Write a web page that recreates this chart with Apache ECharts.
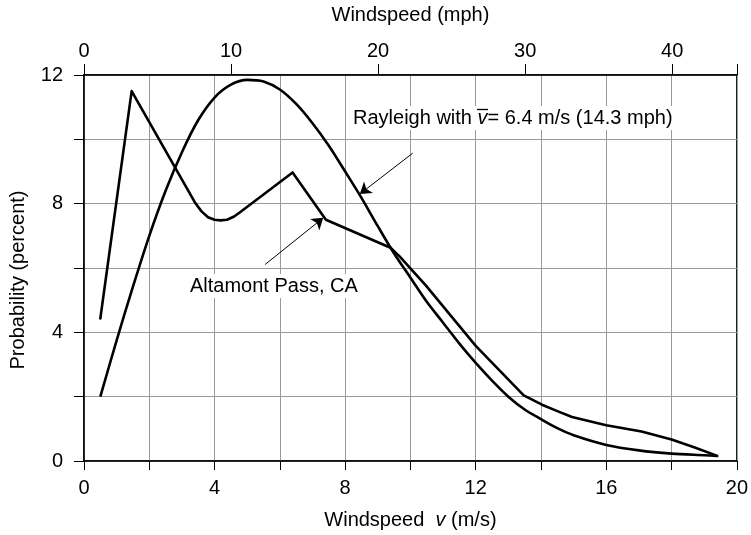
<!DOCTYPE html>
<html>
<head>
<meta charset="utf-8">
<script src="https://cdn.jsdelivr.net/npm/echarts@6/dist/echarts.min.js"></script>
<style>
  html, body { margin: 0; padding: 0; background: #fff; }
  #chart { width: 751px; height: 535px; }
</style>
</head>
<body>
<div id="chart"></div>
<script>
// Windspeed (m/s) and probability (percent)
const altamontSpeed = [0.5, 1.46, 3.41, 3.6, 3.8, 4.0, 4.18, 4.38, 4.6, 4.79, 6.39, 7.41, 9.39, 9.66, 10.47, 12.0, 13.47, 14.03, 14.5, 14.95, 16.0, 17.08, 18.0, 18.71, 19.4];
const altamontProb  = [4.43, 11.5, 8.02, 7.76, 7.58, 7.5, 7.48, 7.5, 7.6, 7.74, 8.97, 7.5, 6.63, 6.37, 5.46, 3.58, 2.04, 1.75, 1.55, 1.37, 1.11, 0.92, 0.67, 0.42, 0.16];

const rayleighSpeed = [0.5, 1, 1.5, 2, 2.5, 3, 3.5, 4, 4.5, 5, 5.5, 6, 6.5, 7, 7.5, 8, 8.5, 9, 9.5, 10, 10.5, 11, 11.5, 12, 12.5, 13, 13.5, 14, 14.5, 15, 16, 17, 18, 19, 19.4];
const rayleighProb  = [2.0, 3.75, 5.42, 7.0, 8.4, 9.6, 10.6, 11.3, 11.7, 11.85, 11.8, 11.55, 11.1, 10.5, 9.8, 9.0, 8.18, 7.3, 6.45, 5.7, 4.95, 4.3, 3.65, 3.05, 2.5, 2.0, 1.6, 1.3, 1.02, 0.8, 0.5, 0.33, 0.23, 0.18, 0.16];

// Annotation arrows: [start, tip] in (m/s, percent)
const rayleighArrow = [[10.07, 9.57], [8.45, 8.3]];
const altamontArrow = [[5.55, 6.11], [7.33, 7.56]];

const xTicksMs = { min: 0, max: 20, step: 2, labelStep: 4 };
const yTicks = { min: 0, max: 12, step: 2, labelStep: 4 };
const mphTicks = { min: 0, max: 44.4, step: 10 };

const pair = (xs, ys) => xs.map((x, i) => [x, ys[i]]);

const FONT = '"Liberation Sans", Arial, Helvetica, sans-serif';
const FS = 20;
const chart = echarts.init(document.getElementById('chart'), null, { renderer: 'canvas' });

const arrowLine = (pts) => ({
  silent: true,
  symbol: ['none', 'arrow'],
  symbolSize: 11,
  label: { show: false },
  lineStyle: { color: '#000', width: 1, type: 'solid' },
  itemStyle: { color: '#000' },
  emphasis: { disabled: true },
  data: [[{ coord: pts[0] }, { coord: pts[1] }]]
});

chart.setOption({
  animation: false,
  backgroundColor: '#fff',
  textStyle: { fontFamily: FONT },
  grid: { left: 83, right: 12, top: 75, bottom: 72, show: true, borderColor: '#000', borderWidth: 1.5, backgroundColor: 'transparent' },
  xAxis: [{
    type: 'value',
    position: 'bottom',
    min: xTicksMs.min, max: xTicksMs.max, interval: xTicksMs.step,
    name: 'Windspeed  {i|v} (m/s)',
    nameLocation: 'middle',
    nameGap: 49,
    nameTextStyle: { fontSize: FS, color: '#000', fontFamily: FONT,
      rich: { i: { fontStyle: 'italic', fontSize: FS, color: '#000', fontFamily: FONT } } },
    axisLine: { show: true, lineStyle: { color: '#000', width: 1.5 } },
    axisTick: { show: true, inside: false, length: 9, lineStyle: { color: '#000', width: 1 } },
    axisLabel: { fontSize: FS, color: '#000', fontFamily: FONT, margin: 17,
      formatter: v => (v % xTicksMs.labelStep === 0 ? String(v) : '') },
    splitLine: { show: true, lineStyle: { color: '#9a9a9a', width: 1 } }
  }, {
    type: 'value',
    position: 'top',
    min: mphTicks.min, max: mphTicks.max, interval: mphTicks.step,
    name: 'Windspeed (mph)',
    nameLocation: 'middle',
    nameGap: 50,
    nameTextStyle: { fontSize: FS, color: '#000', fontFamily: FONT },
    axisLine: { show: true, lineStyle: { color: '#000', width: 1.5 } },
    axisTick: { show: true, inside: false, length: 11, lineStyle: { color: '#000', width: 1 } },
    axisLabel: { fontSize: FS, color: '#000', fontFamily: FONT, margin: 14,
      formatter: v => (v % 10 === 0 ? String(v) : '') },
    splitLine: { show: false }
  }],
  yAxis: {
    type: 'value',
    min: yTicks.min, max: yTicks.max, interval: yTicks.step,
    name: 'Probability (percent)',
    nameLocation: 'middle',
    nameGap: 56,
    nameRotate: 90,
    nameTextStyle: { fontSize: FS, color: '#000', fontFamily: FONT, padding: [0, 0, 0, -24] },
    axisLine: { show: true, lineStyle: { color: '#000', width: 1.5 } },
    axisTick: { show: true, inside: false, length: 10, lineStyle: { color: '#000', width: 1 } },
    axisLabel: { fontSize: FS, color: '#000', fontFamily: FONT, margin: 21,
      formatter: v => (v % yTicks.labelStep === 0 ? String(v) : '') },
    splitLine: { show: true, lineStyle: { color: '#9a9a9a', width: 1 } }
  },
  series: [{
    name: 'Rayleigh',
    type: 'line',
    xAxisIndex: 0,
    data: pair(rayleighSpeed, rayleighProb),
    smooth: 0.3,
    showSymbol: false,
    symbol: 'none',
    lineStyle: { color: '#000', width: 2.6 },
    markLine: arrowLine(rayleighArrow),
    z: 5
  }, {
    name: 'Altamont Pass, CA',
    type: 'line',
    xAxisIndex: 0,
    data: pair(altamontSpeed, altamontProb),
    smooth: false,
    showSymbol: false,
    symbol: 'none',
    lineStyle: { color: '#000', width: 2.6, join: 'round', cap: 'round' },
    markLine: arrowLine(altamontArrow),
    z: 5
  }],
  graphic: [{
    type: 'text',
    x: 351, y: 118,
    z: 10,
    style: {
      text: 'Rayleigh with {i|v}= 6.4 m/s (14.3 mph)',
      font: FS + 'px ' + FONT,
      fill: '#000',
      backgroundColor: '#fff',
      padding: [2, 2],
      verticalAlign: 'middle',
      textVerticalAlign: 'middle',
      rich: { i: { fontStyle: 'italic', fontSize: FS, fontFamily: FONT, fill: '#000' } }
    }
  }, {
    type: 'line',
    z: 11,
    shape: { x1: 477, y1: 109.5, x2: 488, y2: 109.5 },
    style: { stroke: '#000', lineWidth: 1.3 }
  }, {
    type: 'text',
    x: 188, y: 286,
    z: 10,
    style: {
      text: 'Altamont Pass, CA',
      font: FS + 'px ' + FONT,
      fill: '#000',
      backgroundColor: '#fff',
      padding: [2, 2],
      verticalAlign: 'middle',
      textVerticalAlign: 'middle'
    }
  }]
});
</script>
</body>
</html>
